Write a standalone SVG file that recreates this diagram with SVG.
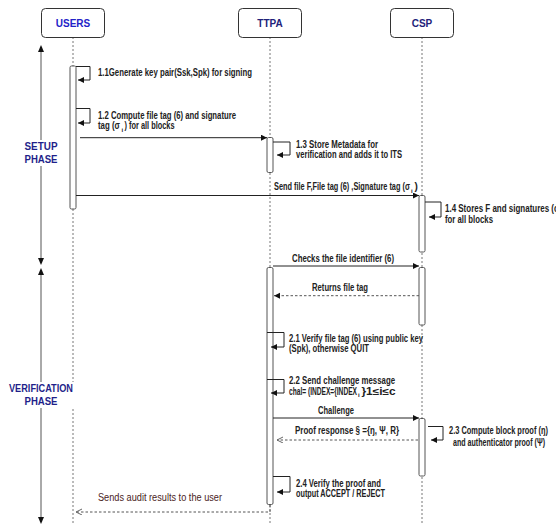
<svg xmlns="http://www.w3.org/2000/svg" width="556" height="525" viewBox="0 0 556 525">
<style>
.hdr{fill:#fff;stroke:#333;stroke-width:1}
.ht{font-family:"Liberation Sans",Arial,sans-serif;font-weight:bold;font-size:10px;text-anchor:middle}
.life{stroke:#777;stroke-width:1;stroke-dasharray:2,2;fill:none}
.act{fill:#fff;stroke:#555;stroke-width:1}
.msg{stroke:#222;stroke-width:1;fill:none}
.dash{stroke:#555;stroke-width:1;fill:none;stroke-dasharray:2.5,2}
.t{font-family:"Liberation Sans",Arial,sans-serif;font-weight:bold;font-size:10px;fill:#222}
.s{font-family:"Liberation Sans",Arial,sans-serif;font-weight:bold;font-size:6px;fill:#222}
.ph{font-family:"Liberation Sans",Arial,sans-serif;font-weight:bold;font-size:10px;fill:#1f1f8a;text-anchor:middle}
</style>
<defs>
<marker id="fa" markerWidth="8" markerHeight="8" refX="6" refY="3" orient="auto" markerUnits="userSpaceOnUse"><path d="M0,0 L6,3 L0,6 z" fill="#111"/></marker>
<marker id="oa" markerWidth="8" markerHeight="8" refX="6" refY="3" orient="auto" markerUnits="userSpaceOnUse"><path d="M0,0 L6,3 L0,6" fill="none" stroke="#666" stroke-width="1"/></marker>
</defs>
<rect width="556" height="525" fill="#fff"/>

<g id="lifelines">
<line class="life" x1="73" y1="37" x2="73" y2="525"/>
<line class="life" x1="270" y1="37" x2="270" y2="525"/>
<line class="life" x1="422" y1="37" x2="422" y2="525"/>
</g>

<g id="users"><rect class="hdr" x="41.5" y="8.5" width="63" height="29" rx="4"/><text class="ht" x="73" y="26.5" fill="#2222c8">USERS</text></g>
<g id="ttpa"><rect class="hdr" x="238.5" y="8.5" width="63" height="29" rx="4"/><text class="ht" x="270" y="26.5" fill="#22227a">TTPA</text></g>
<g id="csp"><rect class="hdr" x="390.5" y="8.5" width="63" height="29" rx="4"/><text class="ht" x="422" y="26.5" fill="#22227a">CSP</text></g>

<g id="phases">
<line x1="41" y1="52" x2="41" y2="258" stroke="#555" stroke-width="1"/>
<path d="M41,45 L38,52 L44,52 z" fill="#111"/>
<path d="M41,265 L38,258 L44,258 z" fill="#111"/>
<line x1="41" y1="275" x2="41" y2="517" stroke="#555" stroke-width="1"/>
<path d="M41,268 L38,275 L44,275 z" fill="#111"/>
<path d="M41,524 L38,517 L44,517 z" fill="#111"/>
<rect x="20" y="140" width="42" height="26" fill="#fff"/>
<text class="ph" x="41" y="150" textLength="33" lengthAdjust="spacingAndGlyphs">SETUP</text>
<text class="ph" x="41" y="163" textLength="33" lengthAdjust="spacingAndGlyphs">PHASE</text>
<rect x="8" y="382" width="66" height="26" fill="#fff"/>
<text class="ph" x="41" y="392" textLength="64" lengthAdjust="spacingAndGlyphs">VERIFICATION</text>
<text class="ph" x="41" y="404.5" textLength="33" lengthAdjust="spacingAndGlyphs">PHASE</text>
</g>

<g id="activations">
<rect class="act" x="70" y="66" width="6" height="143" rx="1.5"/>
<rect class="act" x="267" y="137.5" width="6" height="35" rx="1.5"/>
<rect class="act" x="419" y="195.5" width="6" height="56.5" rx="1.5"/>
<rect class="act" x="267" y="267.5" width="6" height="237" rx="1.5"/>
<rect class="act" x="419" y="267.5" width="6" height="57.5" rx="1.5"/>
<rect class="act" x="419" y="418.5" width="6" height="57.5" rx="1.5"/>
</g>

<g id="connectors">
<path class="msg" d="M76,66.5 H90 V80 H78" marker-end="url(#fa)"/>
<path class="msg" d="M76,108.5 H90 V123 H78" marker-end="url(#fa)"/>
<line class="msg" x1="80" y1="137.7" x2="267" y2="137.7" marker-end="url(#fa)"/>
<path class="msg" d="M273,142 H290 V155 H277" marker-end="url(#fa)"/>
<line class="msg" x1="76" y1="195.5" x2="419" y2="195.5" marker-end="url(#fa)"/>
<path class="msg" d="M425,202 H441 V217 H429" marker-end="url(#fa)"/>
<line class="msg" x1="273" y1="266" x2="419" y2="266" marker-end="url(#fa)"/>
<line class="dash" x1="419" y1="295.7" x2="274" y2="295.7" marker-end="url(#fa)"/>
<path class="msg" d="M267,332.5 H284 V347 H271" marker-end="url(#fa)"/>
<path class="msg" d="M267,379.5 H284 V393 H271" marker-end="url(#fa)"/>
<line class="msg" x1="273" y1="418" x2="419" y2="418" marker-end="url(#fa)"/>
<path class="msg" d="M428,426.5 H443 V440 H431" marker-end="url(#fa)"/>
<line class="dash" x1="418" y1="440" x2="277" y2="440" marker-end="url(#oa)"/>
<path class="msg" d="M273,476.5 H290 V492 H277" marker-end="url(#fa)"/>
<path class="dash" d="M270,505 V512 H76" marker-end="url(#oa)"/>
</g>

<g id="labels">
<text class="t" x="98" y="75.5" textLength="154" lengthAdjust="spacingAndGlyphs">1.1Generate key pair(Ssk,Spk) for signing</text>
<text class="t" x="98" y="118.5" textLength="138" lengthAdjust="spacingAndGlyphs">1.2 Compute file tag (6) and signature</text>
<text class="t" x="98" y="129" textLength="22" lengthAdjust="spacingAndGlyphs">tag (σ</text>
<text class="s" x="121.5" y="131.5">i</text>
<text class="t" x="124.5" y="129" textLength="50" lengthAdjust="spacingAndGlyphs">) for all blocks</text>
<text class="t" x="296" y="147.5" textLength="82" lengthAdjust="spacingAndGlyphs">1.3 Store Metadata for</text>
<text class="t" x="296" y="158" textLength="106" lengthAdjust="spacingAndGlyphs">verification and adds it to ITS</text>
<text class="t" x="274" y="190" textLength="136" lengthAdjust="spacingAndGlyphs">Send file F,File tag (6) ,Signature tag  (σ</text>
<text class="s" x="411" y="192.5">i</text>
<text class="t" x="414.5" y="190">)</text>
<text class="t" x="445" y="212" textLength="115" lengthAdjust="spacingAndGlyphs">1.4 Stores F and signatures (ϕ</text>
<text class="t" x="445" y="222.5" textLength="48" lengthAdjust="spacingAndGlyphs">for all blocks</text>
<text class="t" x="292" y="261.5" textLength="102" lengthAdjust="spacingAndGlyphs">Checks the file identifier (6)</text>
<text class="t" x="312" y="290.5" textLength="56" lengthAdjust="spacingAndGlyphs">Returns file tag</text>
<text class="t" x="289" y="341.5" textLength="134" lengthAdjust="spacingAndGlyphs">2.1 Verify file tag (6) using public key</text>
<text class="t" x="289" y="352" textLength="80" lengthAdjust="spacingAndGlyphs">(Spk), otherwise QUIT</text>
<text class="t" x="289" y="384" textLength="106" lengthAdjust="spacingAndGlyphs">2.2 Send challenge message</text>
<text class="t" x="289" y="394.5" textLength="68" lengthAdjust="spacingAndGlyphs">chal= (INDEX={INDEX</text>
<text class="s" x="358" y="397">i</text>
<text class="t" x="361.5" y="394.5" textLength="34" lengthAdjust="spacingAndGlyphs">}1≤i≤c</text>
<text class="t" x="318" y="413.5" textLength="36" lengthAdjust="spacingAndGlyphs">Challenge</text>
<text class="t" x="295" y="434" textLength="104" lengthAdjust="spacingAndGlyphs">Proof response § ={ŋ, Ψ, R}</text>
<text class="t" x="449" y="434" textLength="99" lengthAdjust="spacingAndGlyphs">2.3 Compute block proof (ŋ)</text>
<text class="t" x="453" y="446" textLength="92" lengthAdjust="spacingAndGlyphs">and authenticator proof (Ψ)</text>
<text class="t" x="296" y="486.5" textLength="85" lengthAdjust="spacingAndGlyphs">2.4 Verify the proof and</text>
<text class="t" x="296" y="497" textLength="89" lengthAdjust="spacingAndGlyphs">output ACCEPT / REJECT</text>
<text x="98" y="500.5" font-family="'Liberation Sans',Arial,sans-serif" font-size="10" fill="#4a2323" textLength="124" lengthAdjust="spacingAndGlyphs">Sends audit results to the user</text>
</g>
</svg>
